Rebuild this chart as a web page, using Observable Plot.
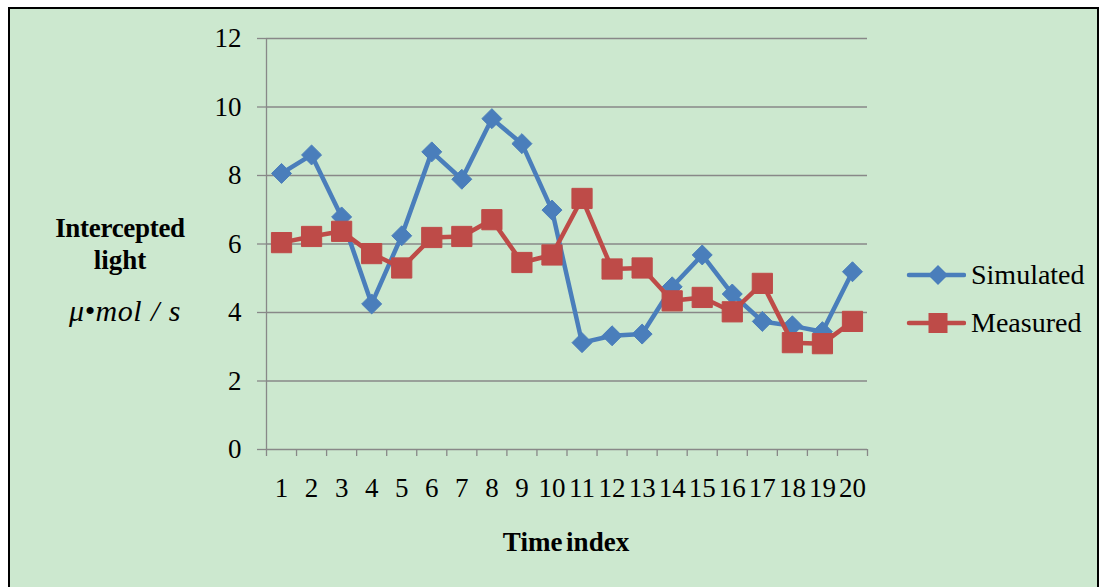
<!DOCTYPE html>
<html>
<head>
<meta charset="utf-8">
<script src="https://cdn.jsdelivr.net/npm/d3@7"></script>
<script src="https://cdn.jsdelivr.net/npm/@observablehq/plot@0.6"></script>
<style>
  html, body { margin: 0; padding: 0; background: #fff; }
  #wrap { position: relative; width: 1104px; height: 587px; overflow: hidden; font-family: "Liberation Serif", "Times New Roman", serif; color: #000; }
  #frame { position: absolute; left: 8px; top: 7px; width: 1087px; height: 600px; border: 2px solid #000; background: #cce8cf; }
  #chart { position: absolute; left: 0; top: 0; }
  .lbl { position: absolute; white-space: nowrap; transform: translate(-50%, -50%); line-height: 1; }
  .legend { position: absolute; left: 906px; display: flex; align-items: center; font-size: 28px; }
  .legend svg { margin-right: 5px; }
</style>
</head>
<body>
<div id="wrap">
  <div id="frame"></div>
  <div id="chart"></div>
  <div class="lbl" style="left:120px; top:228px; font-weight:bold; font-size:27px; letter-spacing:-0.3px;">Intercepted</div>
  <div class="lbl" style="left:120px; top:260px; font-weight:bold; font-size:27px;">light</div>
  <div class="lbl" style="left:125px; top:311px; font-style:italic; font-size:30px; letter-spacing:0.5px; word-spacing:1px;">μ•mol / s</div>
  <div class="lbl" style="left:566px; top:542px; font-weight:bold; font-size:27px; word-spacing:-3px;">Time index</div>
  <div id="legend"></div>
</div>
<script>
const timeIndex = [1, 2, 3, 4, 5, 6, 7, 8, 9, 10, 11, 12, 13, 14, 15, 16, 17, 18, 19, 20];
const simulated = [8.06, 8.60, 6.79, 4.25, 6.24, 8.69, 7.89, 9.66, 8.93, 6.99, 3.12, 3.32, 3.37, 4.75, 5.68, 4.54, 3.74, 3.61, 3.44, 5.19];
const measured  = [6.04, 6.22, 6.37, 5.72, 5.30, 6.19, 6.22, 6.71, 5.46, 5.68, 7.33, 5.27, 5.30, 4.34, 4.44, 4.02, 4.85, 3.12, 3.09, 3.74];
const yTicks = [0, 2, 4, 6, 8, 10, 12];
const seriesNames = ["Simulated", "Measured"];
const seriesColors = ["#4a7ebb", "#be4b48"];
const seriesSymbols = ["diamond2", "square"];

const rowsSim = timeIndex.map((t, i) => ({t, v: simulated[i]}));
const rowsMeas = timeIndex.map((t, i) => ({t, v: measured[i]}));
const boundaries = [0.5, ...timeIndex.map(t => t + 0.5)];

const grid = "#888888";
const chart = Plot.plot({
  width: 1104,
  height: 587,
  marginLeft: 266,
  marginRight: 237,
  marginTop: 38,
  marginBottom: 138,
  style: {background: "transparent", fontFamily: "'Liberation Serif', 'Times New Roman', serif", color: "#000", overflow: "visible"},
  x: {domain: [0.5, 20.5], axis: null},
  y: {domain: [0, 12], axis: null},
  marks: [
    Plot.gridY(yTicks, {stroke: grid, strokeOpacity: 1, strokeWidth: 1.3}),
    Plot.ruleX([0.5], {stroke: grid, strokeWidth: 1.3}),
    Plot.axisY(yTicks, {tickSize: 9, tickPadding: 16, fontSize: 27, stroke: grid, strokeWidth: 1.3, label: null}),
    Plot.axisX(boundaries, {tickSize: 7, tickFormat: () => "", stroke: grid, strokeWidth: 1.3, label: null}),
    Plot.axisX(timeIndex, {tickSize: 0, tickPadding: 28, fontSize: 27, label: null}),
    Plot.line(rowsSim, {x: "t", y: "v", stroke: seriesColors[0], strokeWidth: 4.5}),
    Plot.dot(rowsSim, {x: "t", y: "v", symbol: seriesSymbols[0], r: 9, fill: seriesColors[0], stroke: seriesColors[0], strokeWidth: 1}),
    Plot.line(rowsMeas, {x: "t", y: "v", stroke: seriesColors[1], strokeWidth: 4.5}),
    Plot.dot(rowsMeas, {x: "t", y: "v", symbol: seriesSymbols[1], r: 11.4, fill: seriesColors[1], stroke: seriesColors[1], strokeWidth: 1})
  ]
});
document.getElementById("chart").appendChild(chart);

// legend
const legendTops = [275, 323];
const leg = document.getElementById("legend");
seriesNames.forEach((name, i) => {
  const item = document.createElement("div");
  item.className = "legend";
  item.style.top = (legendTops[i] - 18) + "px";
  item.style.height = "36px";
  const marker = i === 0
    ? `<polygon points="32,8 42,18 32,28 22,18" fill="${seriesColors[i]}"/>`
    : `<rect x="22.5" y="8" width="19" height="20" fill="${seriesColors[i]}"/>`;
  item.innerHTML = `<svg width="60" height="36"><line x1="3" y1="18" x2="58" y2="18" stroke="${seriesColors[i]}" stroke-width="4.5" stroke-linecap="round"/>${marker}</svg><span>${name}</span>`;
  leg.appendChild(item);
});
</script>
</body>
</html>
